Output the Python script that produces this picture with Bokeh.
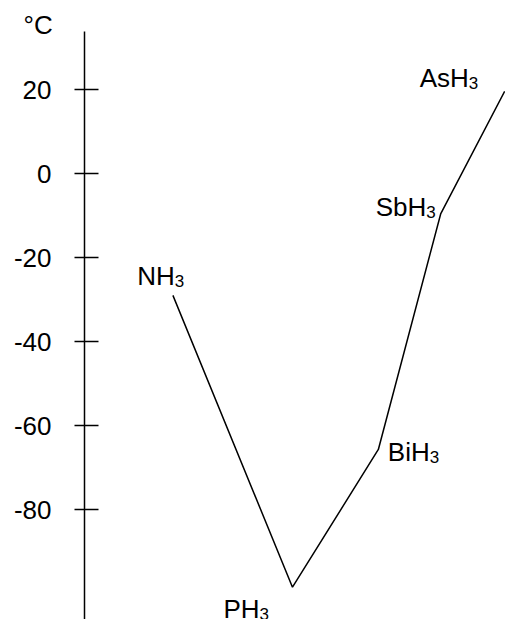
from bokeh.plotting import figure
from bokeh.models import Range1d, FixedTicker, ColumnDataSource
from bokeh.embed import file_html
from bokeh.resources import INLINE
from bokeh.core.properties import value

# data
compounds = ["NH", "PH", "BiH", "SbH", "AsH"]
subscripts = ["3", "3", "3", "3", "3"]
x_pos = [1.05, 2.47, 3.49, 4.23, 4.99]
temps = [-29.0, -98.5, -65.7, -9.6, 19.6]
y_ticks = [20, 0, -20, -40, -60, -80]
unit_label = "°C"

# label placement (styles)
lab_dx = [-35.6, -69.0, 9.5, -65.0, -85.0]
lab_dy = [-19.0, 22.0, 2.7, -6.6, -13.7]
main_w = [37.5, 36.1, 41.9, 50.6, 49.1]
FONT = "Liberation Sans"

p = figure(width=505, height=619, output_backend="svg", toolbar_location=None,
           x_range=Range1d(0, 5), y_range=Range1d(-106.2, 33.86),
           x_axis_location=None, y_axis_location="left",
           min_border_left=84, min_border_right=0, min_border_top=31, min_border_bottom=0)
p.outline_line_color = None
p.xgrid.visible = False
p.ygrid.visible = False
p.background_fill_color = "white"
p.border_fill_color = "white"

# unit label via the title, pulled to the left of the axis
p.title.text = unit_label
p.title.align = "left"
p.title.offset = -61
p.title.standoff = -16.5
p.title.vertical_align = "bottom"
p.title.text_font = FONT
p.title.text_font_size = "26px"
p.title.text_font_style = "normal"
p.title.text_color = "black"

ax = p.yaxis[0]
ax.ticker = FixedTicker(ticks=y_ticks)
ax.major_label_overrides = {t: str(t) for t in y_ticks}
ax.minor_tick_line_color = None
ax.major_tick_in = 14
ax.major_tick_out = 10
ax.major_tick_line_width = 1.5
ax.major_tick_line_color = "black"
ax.axis_line_width = 1.5
ax.axis_line_color = "black"
ax.major_label_text_font = FONT
ax.major_label_text_font_size = "26px"
ax.major_label_text_color = "black"
ax.major_label_standoff = 23

p.line(x_pos, temps, line_color="black", line_width=1.5)

src = ColumnDataSource(dict(x=x_pos, y=temps, name=compounds, sub=subscripts,
                            dx=lab_dx, dy=lab_dy,
                            sdx=[a + b for a, b in zip(lab_dx, main_w)],
                            sdy=[d + 5 for d in lab_dy]))
p.text(x="x", y="y", text="name", source=src, x_offset="dx", y_offset="dy",
       text_font=value(FONT), text_font_size="26px", text_color="black",
       text_align="left", text_baseline="alphabetic")
p.text(x="x", y="y", text="sub", source=src, x_offset="sdx", y_offset="sdy",
       text_font=value(FONT), text_font_size="17px", text_color="black",
       text_align="left", text_baseline="alphabetic")

open("out.html", "w").write(file_html(p, INLINE))
